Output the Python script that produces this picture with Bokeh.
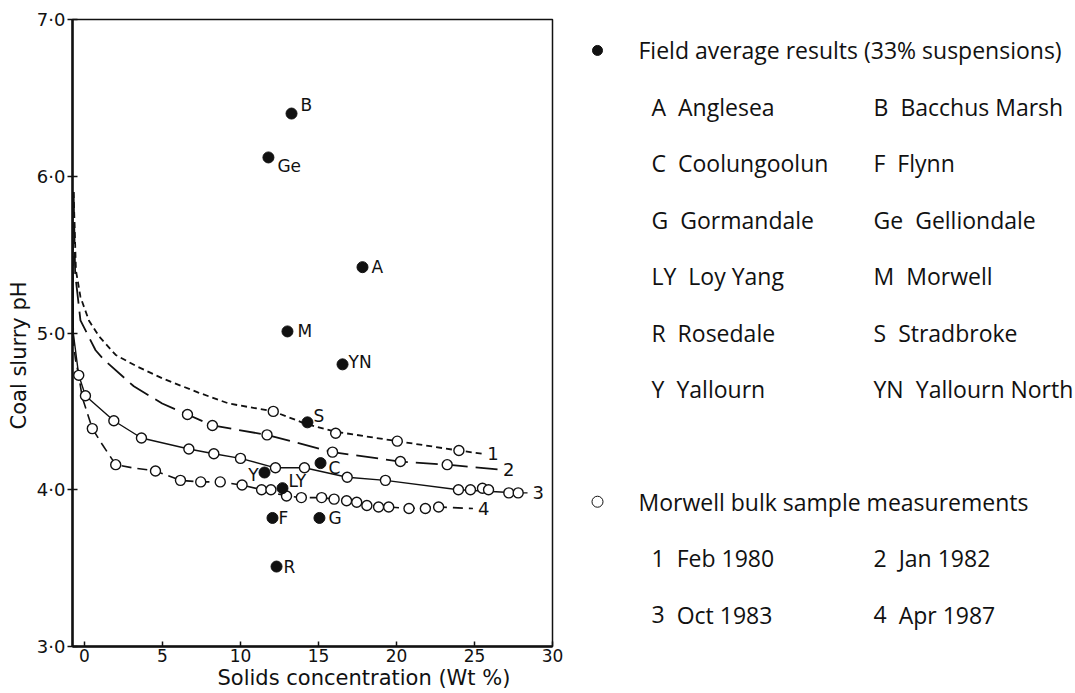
from bokeh.plotting import figure
from bokeh.models import ColumnDataSource, Range1d, FixedTicker, Title
from bokeh.layouts import row
from bokeh.embed import file_html
from bokeh.resources import INLINE
from bokeh.core.properties import value

# ---------------- data ----------------
# Field average results (33% suspensions): filled dots
site_codes = ["B", "Ge", "A", "M", "YN", "S", "C", "Y", "LY", "F", "G", "R"]
site_conc = [13.27, 11.79, 17.82, 13.01, 16.54, 14.29, 15.13, 11.54, 12.69, 12.05, 15.06, 12.31]
site_ph = [6.40, 6.12, 5.42, 5.01, 4.80, 4.43, 4.17, 4.11, 4.01, 3.82, 3.82, 3.51]

# Morwell bulk sample measurements: open circles
s1_conc = [12.1, 16.1, 20.05, 24.0]
s1_ph = [4.50, 4.36, 4.31, 4.25]
s2_conc = [6.6, 8.2, 11.7, 15.9, 20.25, 23.25]
s2_ph = [4.48, 4.41, 4.35, 4.24, 4.18, 4.16]
s3_conc = [0.06, 1.88, 3.65, 6.69, 8.29, 10.0, 12.24, 14.1, 16.84, 19.29, 23.97, 24.74, 25.51, 25.9, 27.2, 27.8]
s3_ph = [4.60, 4.44, 4.33, 4.26, 4.23, 4.20, 4.14, 4.14, 4.08, 4.06, 4.00, 4.00, 4.01, 4.00, 3.98, 3.98]
s4_conc = [-0.37, 0.5, 2.0, 4.55, 6.15, 7.45, 8.7, 10.1, 11.35, 11.95, 12.95, 13.9, 15.2, 16.0, 16.8,
           17.45, 18.1, 18.85, 19.5, 20.8, 21.85, 22.7]
s4_ph = [4.73, 4.39, 4.16, 4.12, 4.06, 4.05, 4.05, 4.03, 4.00, 4.00, 3.96, 3.95, 3.95, 3.94, 3.93,
         3.92, 3.90, 3.89, 3.89, 3.88, 3.88, 3.89]

# fitted curves
c1_conc = [-0.7, -0.55, -0.26, 0.28, 0.92, 2.0, 2.74, 3.3, 5.0, 7.3, 9.25, 12.1, 14.2, 16.1, 20.05, 24.0, 25.5]
c1_ph = [5.9, 5.40, 5.23, 5.08, 4.98, 4.86, 4.82, 4.79, 4.71, 4.62, 4.55, 4.50, 4.42, 4.37, 4.31, 4.25, 4.23]
c2_conc = [-0.7, -0.6, -0.26, 0.71, 1.24, 3.16, 4.98, 6.6, 8.2, 11.7, 15.9, 20.25, 23.25, 26.5]
c2_ph = [5.9, 5.38, 5.08, 4.89, 4.83, 4.66, 4.55, 4.48, 4.41, 4.35, 4.24, 4.18, 4.16, 4.13]
c3_conc = [-0.75, -0.72, -0.37, 0.06, 1.88, 3.65, 6.69, 8.29, 10.0, 12.24, 14.1, 16.84, 19.29, 23.97, 27.8, 28.4]
c3_ph = [5.9, 5.0, 4.73, 4.60, 4.44, 4.33, 4.26, 4.23, 4.20, 4.14, 4.14, 4.08, 4.06, 4.00, 3.98, 3.98]
c4_conc = [-0.75, -0.72, -0.58, -0.37, -0.15, 0.5, 1.13, 2.0, 3.06, 4.55, 6.15, 7.45, 8.7, 10.1, 11.35,
           12.95, 13.9, 15.2, 16.8, 18.1, 19.5, 20.8, 22.7, 24.9]
c4_ph = [5.9, 4.95, 4.83, 4.73, 4.59, 4.39, 4.29, 4.16, 4.14, 4.12, 4.06, 4.05, 4.05, 4.03, 4.00,
         3.96, 3.95, 3.95, 3.93, 3.90, 3.89, 3.88, 3.89, 3.88]

x_ticks = [0, 5, 10, 15, 20, 25, 30]
y_ticks = [3, 4, 5, 6, 7]
y_tick_labels = ["3·0", "4·0", "5·0", "6·0", "7·0"]
x_title = "Solids concentration (Wt %)"
y_title = "Coal slurry pH"

legend_field_title = "Field average results (33% suspensions)"
legend_codes = ["A", "B", "C", "F", "G", "Ge", "LY", "M", "R", "S", "Y", "YN"]
legend_names = ["Anglesea", "Bacchus Marsh", "Coolungoolun", "Flynn", "Gormandale", "Gelliondale",
                "Loy Yang", "Morwell", "Rosedale", "Stradbroke", "Yallourn", "Yallourn North"]
legend_bulk_title = "Morwell bulk sample measurements"
bulk_codes = ["1", "2", "3", "4"]
bulk_dates = ["Feb 1980", "Jan 1982", "Oct 1983", "Apr 1987"]

# ---------------- styles ----------------
PLOT_FONT = "DejaVu Sans"
LEG_FONT = "Open Sans"
LEG_PX = 23
LEG_SIZE = f"{LEG_PX}px"
INK = "#111111"
# approximate Open Sans advance widths (em) used to place the name after each code
GLYPH_EM = {"A": .633, "B": .647, "C": .631, "F": .516, "G": .729, "e": .561, "L": .517, "Y": .563,
            "M": .905, "R": .614, "S": .549, "N": .754}
DIGIT_EM = .572
# per-site label offsets (screen px) and alignment
label_dx = {"B": 9, "Ge": 9, "A": 9, "M": 10, "YN": 6, "S": 6, "C": 8, "Y": -6, "LY": 6, "F": 6, "G": 9, "R": 7}
label_dy = {"B": -9, "Ge": 9, "A": 0, "M": 0, "YN": -2, "S": -6, "C": 5, "Y": 2, "LY": -7, "F": 0, "G": 0, "R": 0}


def code_width(code):
    return sum(GLYPH_EM.get(ch, DIGIT_EM) for ch in code) * LEG_PX


H = 690
FRAME_TOP, FRAME_BOTTOM = 19, 647
p = figure(width=564, height=H, x_range=Range1d(-0.77, 30.0), y_range=Range1d(3.0, 7.0),
           output_backend="svg", toolbar_location=None,
           min_border_left=72, min_border_right=12, min_border_top=FRAME_TOP,
           min_border_bottom=H - FRAME_BOTTOM)
p.background_fill_color = "white"
p.border_fill_color = "white"
p.outline_line_color = INK
p.outline_line_width = 1.5
p.xgrid.visible = False
p.ygrid.visible = False

for ax in (p.xaxis[0], p.yaxis[0]):
    ax.axis_line_color = INK
    ax.axis_line_width = 2.5
    ax.major_tick_line_color = INK
    ax.major_tick_line_width = 1.5
    ax.minor_tick_line_color = None
    ax.major_label_text_font = PLOT_FONT
    ax.major_label_text_font_size = "17px"
    ax.major_label_text_color = INK

p.xaxis.ticker = FixedTicker(ticks=x_ticks)
p.xaxis.major_tick_in = 5
p.xaxis.major_tick_out = 0
p.xaxis.major_label_standoff = 2
p.yaxis.ticker = FixedTicker(ticks=y_ticks)
p.yaxis.major_label_overrides = {t: s for t, s in zip(y_ticks, y_tick_labels)}
p.yaxis.major_tick_in = 5
p.yaxis.major_tick_out = 5
p.yaxis.major_label_standoff = 2
p.yaxis.major_label_text_font_size = "18px"

# axis titles (placed like the reference, off-centre)
p.add_layout(Title(text=x_title, align="left", offset=145, standoff=0, vertical_align="middle",
                   text_font=PLOT_FONT, text_font_size="21px", text_font_style="normal",
                   text_color=INK), "below")
p.add_layout(Title(text=y_title, align="left", offset=217, standoff=4, vertical_align="middle",
                   text_font=PLOT_FONT, text_font_size="21px", text_font_style="normal",
                   text_color=INK), "left")

# curves
p.line(c1_conc, c1_ph, line_color=INK, line_width=1.8, line_dash="6 4")
p.line(c2_conc, c2_ph, line_color=INK, line_width=1.8, line_dash="22 8")
p.line(c3_conc, c3_ph, line_color=INK, line_width=1.4)
p.line(c4_conc, c4_ph, line_color=INK, line_width=1.6, line_dash="10 6")

for xs, ys in ((s1_conc, s1_ph), (s2_conc, s2_ph), (s3_conc, s3_ph), (s4_conc, s4_ph)):
    p.scatter(xs, ys, marker="circle", size=10, fill_color="white", line_color=INK, line_width=1.4)

# curve numbers at the end of each curve
ends_x = [c1_conc[-1], c2_conc[-1], c3_conc[-1], c4_conc[-1]]
ends_y = [c1_ph[-1], c2_ph[-1], c3_ph[-1], c4_ph[-1]]
p.text(x=ends_x, y=ends_y, text=bulk_codes, x_offset=5, text_align="left", text_baseline="middle",
       text_font=value(PLOT_FONT), text_font_size="18px", text_color=INK)

# field sites
p.scatter(site_conc, site_ph, marker="circle", size=11, fill_color=INK, line_color=INK)
left_idx = [i for i, c in enumerate(site_codes) if label_dx[c] >= 0]
right_idx = [i for i, c in enumerate(site_codes) if label_dx[c] < 0]
for idx, align in ((left_idx, "left"), (right_idx, "right")):
    src = ColumnDataSource(dict(
        x=[site_conc[i] for i in idx], y=[site_ph[i] for i in idx],
        t=[site_codes[i] for i in idx],
        dx=[label_dx[site_codes[i]] for i in idx], dy=[label_dy[site_codes[i]] for i in idx]))
    p.text(x="x", y="y", text="t", x_offset="dx", y_offset="dy", source=src,
           text_align=align, text_baseline="middle",
           text_font=value(PLOT_FONT), text_font_size="17px", text_color=INK)

# ---------------- legend panel ----------------
# the row aligns this panel's frame with the chart frame, so map page pixels 1:1
LW = 511
q = figure(width=LW, height=H, x_range=Range1d(0, LW), y_range=Range1d(FRAME_BOTTOM, FRAME_TOP),
           x_axis_type=None, y_axis_type=None, output_backend="svg", toolbar_location=None,
           min_border=0)
q.outline_line_color = None
q.xgrid.visible = False
q.ygrid.visible = False

row0 = 50
step = 56.5
mark_x, head_x, col_x = 33, 74, [87, 309]

q.scatter([mark_x], [row0], marker="circle", size=10, fill_color=INK, line_color=INK)
q.scatter([mark_x], [row0 + 8 * step], marker="circle", size=11, fill_color="white",
          line_color=INK, line_width=1)
q.text(x=[head_x, head_x], y=[row0, row0 + 8 * step], text=[legend_field_title, legend_bulk_title],
       text_align="left", text_baseline="middle", text_font=value(LEG_FONT), text_font_size=LEG_SIZE,
       text_color=INK)

cx, cy, nx = [], [], []
for i, c in enumerate(legend_codes):
    r, k = divmod(i, 2)
    cx.append(col_x[k])
    cy.append(row0 + (r + 1) * step)
    nx.append(col_x[k] + code_width(c) + 12)
for i, c in enumerate(bulk_codes):
    r, k = divmod(i, 2)
    cx.append(col_x[k])
    cy.append(row0 + (r + 9) * step)
    nx.append(col_x[k] + code_width(c) + 12)
q.text(x=cx, y=cy, text=legend_codes + bulk_codes, text_align="left", text_baseline="middle",
       text_font=value(LEG_FONT), text_font_size=LEG_SIZE, text_color=INK)
q.text(x=nx, y=cy, text=legend_names + bulk_dates, text_align="left", text_baseline="middle",
       text_font=value(LEG_FONT), text_font_size=LEG_SIZE, text_color=INK)

layout = row(p, q)
open("out.html", "w").write(file_html(layout, INLINE))
